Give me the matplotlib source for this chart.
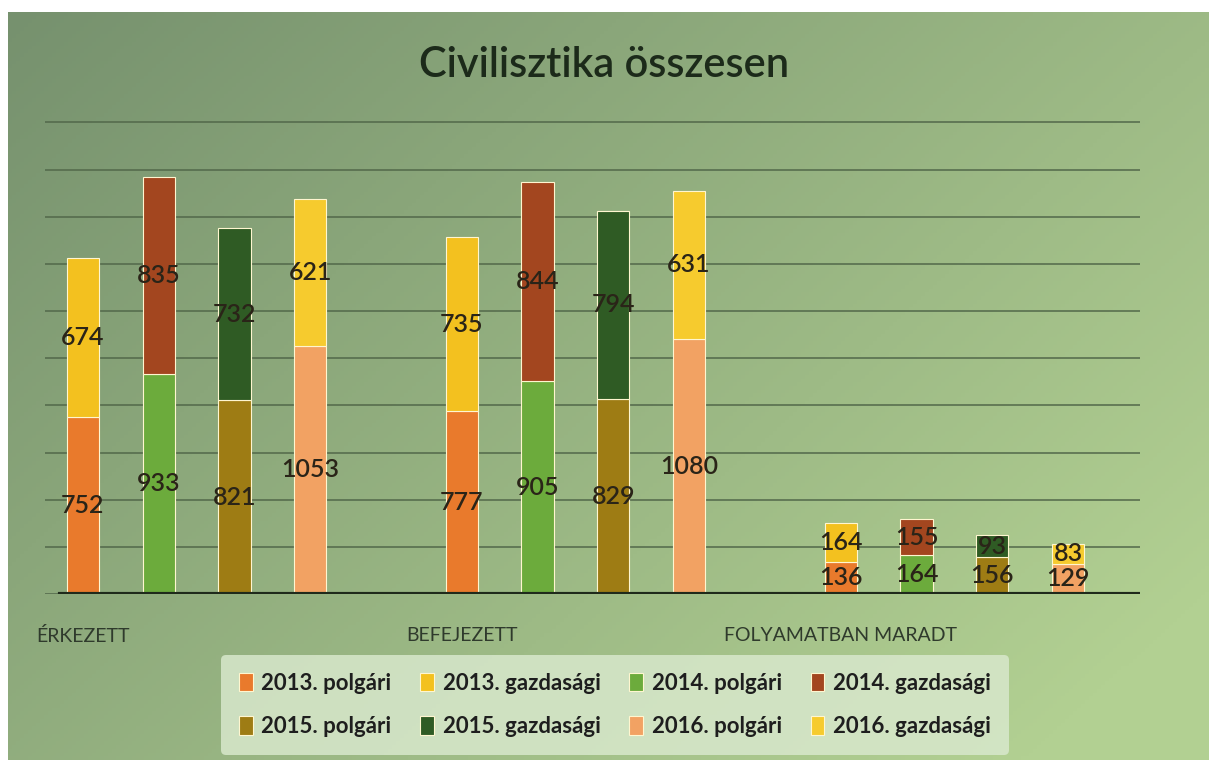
import numpy as np
import matplotlib
matplotlib.use("Agg")
import matplotlib.pyplot as plt

# ---------------------------------------------------------------
# Data
# ---------------------------------------------------------------
categories = ["ÉRKEZETT", "BEFEJEZETT", "FOLYAMATBAN MARADT"]
years = ["2013", "2014", "2015", "2016"]

polgari = {
    "2013": [752, 777, 136],
    "2014": [933, 905, 164],
    "2015": [821, 829, 156],
    "2016": [1053, 1080, 129],
}
gazdasagi = {
    "2013": [674, 735, 164],
    "2014": [835, 844, 155],
    "2015": [732, 794, 93],
    "2016": [621, 631, 83],
}

polg_colors = {"2013": "#E97A2C", "2014": "#6CAB3C", "2015": "#9E7C14", "2016": "#F2A263"}
gazd_colors = {"2013": "#F3C11F", "2014": "#A3461F", "2015": "#2F5B24", "2016": "#F6CB2E"}

plt.rcParams['font.family'] = ['Lato', 'DejaVu Sans']

fig = plt.figure(figsize=(12.09, 7.6), dpi=100)
fig.patch.set_facecolor("white")

# ---------------------------------------------------------------
# Gradient background (scanned slide look)
# ---------------------------------------------------------------
bg = fig.add_axes([8 / 1209, 0, 1 - 8 / 1209, 1 - 12 / 760], zorder=-10)
h, w = 200, 300
yy, xx = np.mgrid[0:1:complex(0, h), 0:1:complex(0, w)]
t = np.clip(0.65 * xx + 0.45 * yy, 0, 1)
c0 = np.array([118, 145, 110]) / 255
c1 = np.array([178, 208, 146]) / 255
img = c0[None, None, :] * (1 - t[..., None]) + c1[None, None, :] * t[..., None]
bg.imshow(img, aspect="auto", extent=[0, 1, 0, 1], origin="upper")
bg.axis("off")

# ---------------------------------------------------------------
# Main chart
# ---------------------------------------------------------------
ax = fig.add_axes([45 / 1209, 166 / 760, 1095 / 1209, 474 / 760])
ax.patch.set_alpha(0)

x = np.arange(len(categories))
width = 0.085
offsets = [-0.3, -0.1, 0.1, 0.3]

for i, yr in enumerate(years):
    xs = x + offsets[i]
    b1 = ax.bar(xs, polgari[yr], width, color=polg_colors[yr],
                edgecolor="#fff6d0", linewidth=0.8, label=f"{yr}. polgári", zorder=3)
    b2 = ax.bar(xs, gazdasagi[yr], width, bottom=polgari[yr], color=gazd_colors[yr],
                edgecolor="#fff6d0", linewidth=0.8, label=f"{yr}. gazdasági", zorder=3)
    ax.bar_label(b1, label_type="center", fontsize=18, fontweight="semibold",
                 color="#2a2418", zorder=5)
    ax.bar_label(b2, label_type="center", fontsize=18, fontweight="semibold",
                 color="#2a2418", zorder=5)

ax.set_xlim(-0.4, 2.49)
ax.set_ylim(0, 2010)
ax.set_yticks(np.arange(0, 2001, 200))
ax.yaxis.grid(True, color="#52684a", linewidth=1.1, zorder=0)
ax.set_yticklabels([])
ax.tick_params(left=False, bottom=False)
for s in ax.spines.values():
    s.set_visible(False)
ax.axhline(0, xmin=0.014, xmax=1, color="#1f2a1b", linewidth=3, zorder=4)

ax.set_xticks(x + offsets[0])
ax.set_xticklabels(categories, fontsize=14, color="#2f3a2c")
ax.tick_params(axis="x", pad=20)

fig.text(0.5, 0.915, "Civilisztika összesen", ha="center", va="center",
         fontsize=30, fontweight="semibold", color="#1c2a1a")

# legend: row-wise order as in the original, ncol fills column-major
handles, labels = ax.get_legend_handles_labels()
rows = [handles[0:4], handles[4:8]]
cm_handles = [rows[r][c] for c in range(4) for r in range(2)]
cm_labels = [h.get_label() for h in cm_handles]
leg = fig.legend(cm_handles, cm_labels, ncol=4, loc="center",
                 bbox_to_anchor=(615 / 1209, 1 - 705 / 760),
                 prop={"size": 16, "weight": "bold"}, frameon=True,
                 handlelength=0.6, handleheight=0.9, handletextpad=0.4,
                 columnspacing=1.3, labelspacing=1.0, borderpad=0.8)
leg.get_frame().set_facecolor("#d8e8cc")
leg.get_frame().set_edgecolor("none")
leg.get_frame().set_alpha(0.85)
for txt in leg.get_texts():
    txt.set_color("#1e1e1e")

fig.savefig("out.png", dpi=100)
